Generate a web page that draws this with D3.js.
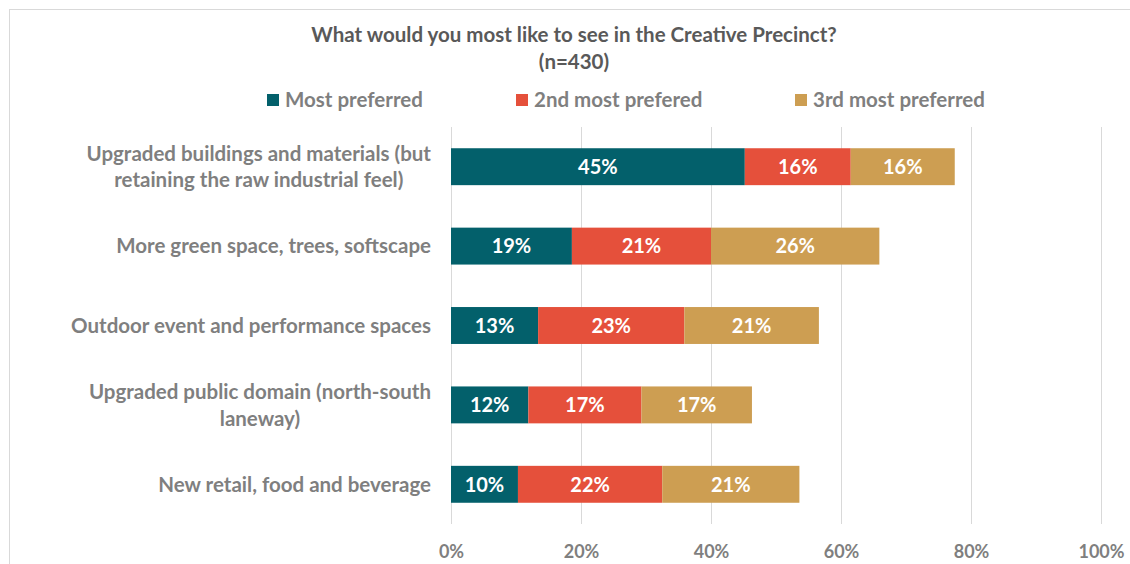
<!DOCTYPE html>
<html>
<head>
<meta charset="utf-8">
<script src="https://cdn.jsdelivr.net/npm/d3@7"></script>
<style>
  body { margin: 0; background: #fff; }
  svg { font-family: Lato, "Open Sans", sans-serif; font-weight: bold; }
</style>
</head>
<body>
<svg id="chart" width="1130" height="564"></svg>
<script>
const categories = [
  ["Upgraded buildings and materials (but", "retaining the raw industrial feel)"],
  ["More green space, trees, softscape"],
  ["Outdoor event and performance spaces"],
  ["Upgraded public domain (north-south", "laneway)"],
  ["New retail, food and beverage"]
];
const mostPreferred = [45.2, 18.6, 13.4, 11.9, 10.3];
const secondPreferred = [16.3, 21.4, 22.5, 17.4, 22.2];
const thirdPreferred = [16.0, 25.9, 20.7, 17.0, 21.1];
const seriesNames = ["Most preferred", "2nd most prefered", "3rd most preferred"];
const seriesColors = ["#03606B", "#E5503B", "#CD9E52"];
const xTicks = [0, 20, 40, 60, 80, 100];

const svg = d3.select("#chart");
const width = +svg.attr("width");
const height = +svg.attr("height");

const margin = { top: 127, right: 30, bottom: 40, left: 451 };
const innerWidth = 1101 - margin.left;
const innerHeight = 524 - margin.top;

// chart frame
svg.append("rect")
  .attr("x", 9.5).attr("y", 9.5)
  .attr("width", width + 20).attr("height", height + 20)
  .attr("fill", "none").attr("stroke", "#d9d9d9");

const rows = categories.map((c, i) => ({
  id: i,
  label: c,
  values: [mostPreferred[i], secondPreferred[i], thirdPreferred[i]]
}));

const x = d3.scaleLinear().domain([0, 100]).range([0, innerWidth]);
const y = d3.scaleBand()
  .domain(rows.map(d => d.id))
  .range([0, innerHeight])
  .paddingInner(0.535).paddingOuter(0.2675);

const chart = svg.append("g")
  .attr("transform", `translate(${margin.left}, ${margin.top})`);

// gridlines
chart.append("g")
  .selectAll("line")
  .data(xTicks)
  .enter()
  .append("line")
  .attr("x1", d => x(d) + 0.5).attr("x2", d => x(d) + 0.5)
  .attr("y1", 0).attr("y2", innerHeight)
  .attr("stroke", "#d9d9d9").attr("stroke-width", 1);

// x tick labels
const xAxis = chart.append("g")
  .attr("transform", `translate(0, ${innerHeight})`)
  .call(d3.axisBottom(x).tickValues(xTicks).tickFormat(d => d + "%").tickSize(0).tickPadding(21));
xAxis.select(".domain").remove();
xAxis.selectAll("text")
  .attr("fill", "#7f7f7f")
  .attr("font-size", "18px")
  .attr("font-family", "Lato, sans-serif")
  .attr("font-weight", "bold");

// stacked segments
const segs = rows.map(r => {
  let acc = 0;
  return r.values.map((v, k) => {
    const s = { id: r.id, k, x0: acc, x1: acc + v, v };
    acc += v;
    return s;
  });
});

const groups = chart.selectAll(".row")
  .data(segs)
  .enter()
  .append("g")
  .attr("class", "row");

groups.selectAll("rect")
  .data(d => d)
  .enter()
  .append("rect")
  .attr("x", d => x(d.x0))
  .attr("y", d => y(d.id))
  .attr("width", d => x(d.x1) - x(d.x0))
  .attr("height", y.bandwidth())
  .attr("fill", d => seriesColors[d.k]);

groups.selectAll("text")
  .data(d => d)
  .enter()
  .append("text")
  .attr("x", d => x((d.x0 + d.x1) / 2))
  .attr("y", d => y(d.id) + y.bandwidth() / 2)
  .attr("dy", "0.36em")
  .attr("text-anchor", "middle")
  .attr("fill", "#fff")
  .attr("font-size", "20px")
  .text(d => Math.round(d.v) + "%");

// category labels
const catLabels = chart.append("g")
  .selectAll("text")
  .data(rows)
  .enter()
  .append("text")
  .attr("fill", "#7f7f7f")
  .attr("font-size", "20.5px")
  .attr("y", d => y(d.id) + y.bandwidth() / 2);

catLabels.each(function (d) {
  const t = d3.select(this);
  const n = d.label.length;
  d.label.forEach((line, j) => {
    t.append("tspan")
      .attr("x", -20)
      .attr("text-anchor", "end")
      .attr("dy", j === 0 ? (0.36 - (n - 1) * 0.65) + "em" : "1.3em")
      .text(line);
  });
});
// second line of wrapped labels is centred under the first
catLabels.each(function (d) {
  if (d.label.length < 2) return;
  const spans = d3.select(this).selectAll("tspan").nodes();
  const w0 = spans[0].getComputedTextLength();
  d3.select(spans[1]).attr("x", -20 - w0 / 2).attr("text-anchor", "middle");
});

// title
svg.append("text")
  .attr("x", 574).attr("y", 42)
  .attr("text-anchor", "middle")
  .attr("fill", "#595959")
  .attr("font-size", "20.5px")
  .text("What would you most like to see in the Creative Precinct?");
svg.append("text")
  .attr("x", 574).attr("y", 69)
  .attr("text-anchor", "middle")
  .attr("fill", "#595959")
  .attr("font-size", "20.5px")
  .text("(n=430)");

// legend
const legendX = [267, 516, 795];
const legend = svg.append("g")
  .selectAll("g")
  .data(seriesNames)
  .enter()
  .append("g")
  .attr("transform", (d, i) => `translate(${legendX[i]}, 100)`);
legend.append("rect")
  .attr("x", 0).attr("y", -6)
  .attr("width", 12).attr("height", 12)
  .attr("fill", (d, i) => seriesColors[i]);
legend.append("text")
  .attr("x", 18).attr("y", 0).attr("dy", "0.36em")
  .attr("fill", "#7f7f7f")
  .attr("font-size", "20.5px")
  .text(d => d);
</script>
</body>
</html>
